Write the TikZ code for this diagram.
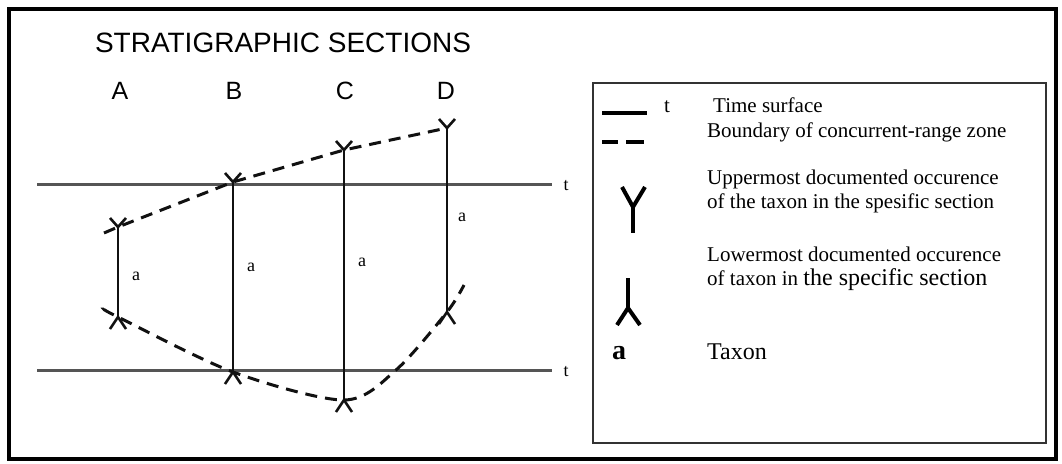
\documentclass[tikz,border=0pt]{standalone}
\usepackage{fontspec}
\setmainfont{Liberation Serif}
\newfontfamily\headfont{Liberation Sans}
\usetikzlibrary{calc}
\definecolor{ScanBlack}{HTML}{111111}
\definecolor{ScanGrey}{HTML}{555555}
\tikzset{
    % Outer frame of the figure
    frame/.style={draw=black, line width=4pt},
    % Legend box
    legendbox/.style={draw=black!80, line width=1.3pt},
    % Time surface
    timesurf/.style={draw=ScanGrey, line width=3pt},
    % Range of the taxon in one section
    section/.style={draw=ScanBlack, line width=2.8pt},
    % Boundary of concurrent-range zone
    zone/.style={draw=ScanBlack, line width=3pt, dash pattern=on 12pt off 8pt},
    % Tick marks on the sections
    tick/.style={draw=ScanBlack, line width=2.6pt},
    uptick/.pic={\draw[tick] (-8,-9) -- (0,0) -- (8,-9);},
    downtick/.pic={\draw[tick] (-8,12) -- (0,0) -- (8,12);},
    % Legend symbols
    symbol/.style={draw=black, line width=4pt},
    % Texts
    title/.style={font=\headfont\fontsize{28}{30}\selectfont},
    sectionname/.style={font=\headfont\fontsize{25}{27}\selectfont},
    taxon/.style={font=\fontsize{18}{20}\selectfont},
    tlabel/.style={font=\fontsize{18}{20}\selectfont},
    legendtext/.style={font=\fontsize{21}{24}\selectfont, anchor=base west, align=left, inner sep=0pt}
}
\begin{document}
\begin{tikzpicture}[x=1pt, y=-1pt]
    \useasboundingbox (0,0) rectangle (1062,463);
    \fill[white] (0,0) rectangle (1062,463);
    \draw[frame] (9,9) rectangle (1056,459);

    % Title and section names
    \node (title) [title] at (283,43) {STRATIGRAPHIC SECTIONS};
    \node (nameA) [sectionname] at (120,91) {A};
    \node (nameB) [sectionname] at (234,91) {B};
    \node (nameC) [sectionname] at (345,91) {C};
    \node (nameD) [sectionname] at (446,91) {D};

    % Time surfaces
    \coordinate (t1w) at (37,184);
    \coordinate (t1e) at (552,184);
    \coordinate (t2w) at (37,370);
    \coordinate (t2e) at (552,370);
    \draw[timesurf] (t1w) -- (t1e);
    \draw[timesurf] (t2w) -- (t2e);
    \node (t1) [tlabel] at (566,186) {t};
    \node (t2) [tlabel] at (566,372) {t};

    % Tops and bottoms of the sections
    \coordinate (Atop) at (118,227);
    \coordinate (Abot) at (118,317);
    \coordinate (Btop) at (233,182);
    \coordinate (Bbot) at (233,372);
    \coordinate (Ctop) at (344,150);
    \coordinate (Cbot) at (344,400);
    \coordinate (Dtop) at (447,128);
    \coordinate (Dbot) at (447,312);

    \draw[section] (Atop) -- (Abot);
    \draw[section] (Btop) -- (Bbot);
    \draw[section] (Ctop) -- (Cbot);
    \draw[section] (Dtop) -- (Dbot);

    \foreach \s in {A,B,C,D} {
        \pic at (\s top) {uptick};
        \pic at (\s bot) {downtick};
    }

    \node (aA) [taxon] at (136,276) {a};
    \node (aB) [taxon] at (251,267) {a};
    \node (aC) [taxon] at (362,262) {a};
    \node (aD) [taxon] at (462,217) {a};

    % Boundaries of the concurrent-range zone
    \coordinate (upend) at (104,233);
    \coordinate (lowend) at (104,309);
    \coordinate (cross) at (396,370);
    \coordinate (dend) at (464,285);
    \draw[zone] (upend) -- (Atop) -- (Btop) -- (Ctop) -- (Dtop);
    \draw[zone] plot[smooth, tension=0.5] coordinates {(lowend) (Abot) (Bbot) (Cbot) (cross) (Dbot) (dend)};

    % Legend
    \draw[legendbox] (593,83) rectangle (1046,443);
    \draw[symbol] (602,113) -- (647,113);
    \draw[symbol] (602,142) -- (618,142);
    \draw[symbol] (626,142) -- (644,142);
    \draw[symbol] (622,187) -- (633,207) -- (645,187);
    \draw[symbol] (633,207) -- (633,233);
    \draw[symbol] (628,278) -- (628,308);
    \draw[symbol] (617,325) -- (628,308) -- (640,325);

    \node (keyt) [legendtext] at (664,112) {t};
    \node (keytime) [legendtext] at (713,112) {Time surface};
    \node (keyzone) [legendtext] at (707,137) {Boundary of concurrent-range zone};
    \node (keyupper) [legendtext] at (707,208) {Uppermost documented occurence\\of the taxon in the spesific section};
    \node (keylower) [legendtext] at (707,285) {Lowermost documented occurence\\of taxon in {\fontsize{24}{24}\selectfont the specific section}};
    \node (keya) [legendtext, font=\bfseries\fontsize{28}{30}\selectfont] at (612,359) {a};
    \node (keytaxon) [legendtext, font=\fontsize{24}{26}\selectfont] at (707,359) {Taxon};
\end{tikzpicture}
\end{document}
